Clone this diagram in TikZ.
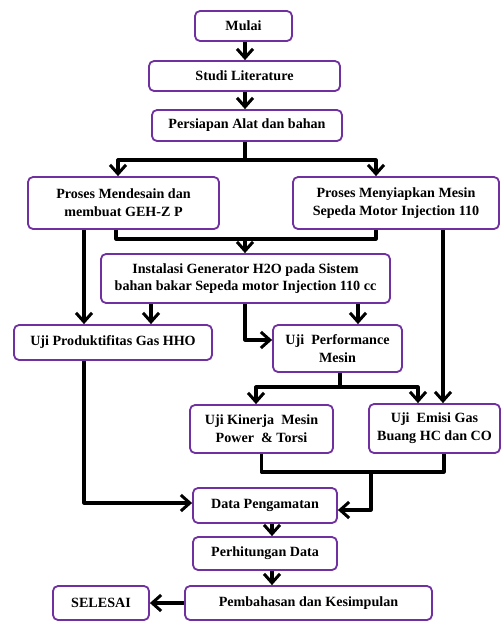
\documentclass[tikz,border=0pt]{standalone}
\usepackage{fontspec}
\setmainfont{Liberation Serif}
\usepackage{tikz}
\usetikzlibrary{arrows.meta, positioning}
\definecolor{boxpurple}{RGB}{112,48,160}

\begin{document}
\begin{tikzpicture}[x=1pt,y=-1pt,
		box/.style={draw=boxpurple, line width=1.8pt, rounded corners=5pt, fill=white,
			align=center, inner sep=2pt, font=\bfseries\fontsize{14.1}{17.7}\selectfont},
		line/.style={line width=3.2pt, line join=round},
		arr/.style={line width=3.2pt, line join=round,
			-{Straight Barb[length=9pt,width=16pt,line width=3pt]}}]
			\useasboundingbox (0,0) rectangle (503,622);
			% kotak-kotak
			\node[box, minimum width=97pt, minimum height=30pt] (mulai) at (243.5,26) {Mulai};
			\node[box, minimum width=191pt, minimum height=30pt] (studi) at (244.5,76) {Studi Literature};
			\node[box, minimum width=190pt, minimum height=31pt] (persiapan) at (247,125.5) {Persiapan Alat dan bahan};
			\node[box, minimum width=191pt, minimum height=52pt] (mendesain) at (123.5,203) {Proses Mendesain dan\\membuat GEH-Z P};
			\node[box, minimum width=206pt, minimum height=52pt] (menyiapkan) at (396,203) {Proses Menyiapkan Mesin\\Sepeda Motor Injection 110};
			\node[box, minimum width=289pt, minimum height=49pt] (instalasi) at (245.5,278.5) {Instalasi Generator H2O pada Sistem\\bahan bakar Sepeda motor Injection 110 cc};
			\node[box, minimum width=198pt, minimum height=35pt] (produktif) at (113,342.5) {Uji Produktifitas Gas HHO};
			\node[box, minimum width=129pt, minimum height=47pt] (performance) at (337.5,348.5) {Uji~~Performance\\Mesin};
			\node[box, minimum width=143pt, minimum height=48pt] (kinerja) at (261.5,429) {Uji Kinerja~~Mesin\\Power~~\& Torsi};
			\node[box, minimum width=131pt, minimum height=49pt] (emisi) at (434.5,428.5) {Uji~~Emisi Gas\\Buang HC dan CO};
			\node[box, minimum width=144pt, minimum height=35pt] (data) at (265,505.5) {Data Pengamatan};
			\node[box, minimum width=144pt, minimum height=33pt] (hitung) at (265,553.5) {Perhitungan Data};
			\node[box, minimum width=247pt, minimum height=34pt] (bahas) at (308.5,603) {Pembahasan dan Kesimpulan};
			\node[box, minimum width=96pt, minimum height=34pt] (selesai) at (101,603) {SELESAI};
			% titik cabang
			\coordinate (j1) at (245,160);
			\coordinate (j2) at (245,239);
			\coordinate (j3) at (340,387);
			\coordinate (j4) at (371,472);
			\coordinate (j5) at (272,0);
			% panah
			\draw[arr] ([xshift=1.5pt]mulai.south) -- ([xshift=1.5pt]mulai.south |- studi.north);
			\draw[arr] ([xshift=0.5pt]studi.south) -- ([xshift=0.5pt]studi.south |- persiapan.north);
			\draw[line] (j1 |- persiapan.south) -- (j1);
			\draw[arr] (j1) -| ([xshift=-5.5pt]mendesain.north);
			\draw[arr] (j1) -| ([xshift=-20pt]menyiapkan.north);
			\draw[line] ([xshift=-7.5pt]mendesain.south) |- (j2) -| ([xshift=-20pt]menyiapkan.south);
			\draw[arr] (j2) -- (j2 |- instalasi.north);
			\draw[arr] ([xshift=-39.5pt]mendesain.south) -- ([xshift=-39.5pt]mendesain.south |- produktif.north);
			\draw[arr] ([xshift=-94.5pt]instalasi.south) -- ([xshift=-94.5pt]instalasi.south |- produktif.north);
			\draw[arr] ([xshift=112.5pt]instalasi.south) -- ([xshift=112.5pt]instalasi.south |- performance.north);
			\draw[arr] (j2 |- instalasi.south) |- ([yshift=8.5pt]performance.west);
			\draw[line] (j3 |- performance.south) -- (j3);
			\draw[arr] (j3) -| ([xshift=-5.5pt]kinerja.north);
			\draw[arr] (j3) -| ([xshift=-16.5pt]emisi.north);
			\draw[arr] ([xshift=47pt]menyiapkan.south) -- ([xshift=47pt]menyiapkan.south |- emisi.north);
			\draw[line] (kinerja.south) |- (j4) -| ([xshift=9.5pt]emisi.south);
			\draw[arr] (j4) |- ([yshift=-4.5pt]data.east);
			\draw[arr] ([xshift=-29pt]produktif.south) |- ([yshift=2.5pt]data.west);
			\draw[arr] (j5 |- data.south) -- (j5 |- hitung.north);
			\draw[arr] (j5 |- hitung.south) -- (j5 |- bahas.north);
			\draw[arr] (bahas.west) -- (selesai.east);
		\end{tikzpicture}
\end{document}
